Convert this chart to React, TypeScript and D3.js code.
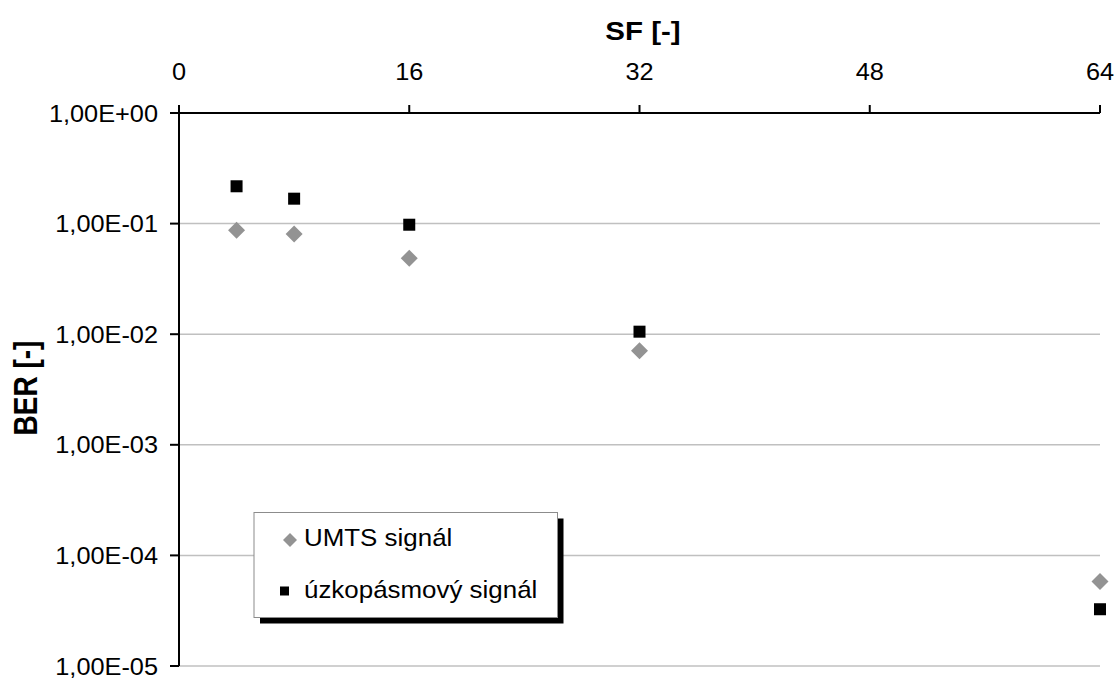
import React from "react";
import * as d3 from "d3";

const sfValues = [4, 8, 16, 32, 64];
const umtsBer = [0.087, 0.0805, 0.0486, 0.0071, 5.8e-5];
const narrowBer = [0.2175, 0.168, 0.0977, 0.01054, 3.26e-5];
const xTicks = [0, 16, 32, 48, 64];
const yTicks = [1, 0.1, 0.01, 0.001, 0.0001, 0.00001];
const yTickLabels = ["1,00E+00", "1,00E-01", "1,00E-02", "1,00E-03", "1,00E-04", "1,00E-05"];
const seriesNames = ["UMTS signál", "úzkopásmový signál"];
const xTitle = "SF [-]";
const yTitle = "BER [-]";

const W = 1119;
const H = 678;
const left = 179;
const right = 1100;
const top = 113;
const bottom = 666;

const FONT = "'Liberation Sans', Arial, Helvetica, sans-serif";
const SX = 1.055;
const FS = 24;

export default function App() {
  const x = d3.scaleLinear().domain([0, 64]).range([left, right]);
  const y = d3.scaleLog().domain([1e-5, 1]).range([bottom, top]);
  const diamond = (cx: number, cy: number, r: number) =>
    `M${cx},${cy - r}L${cx + r},${cy}L${cx},${cy + r}L${cx - r},${cy}Z`;

  const lgX = 254, lgY = 512.5, lgW = 303.5, lgH = 105;

  return (
    <svg width={W} height={H} style={{ position: "absolute", left: 0, top: 0, background: "#fff" }}>
      <rect x={0} y={0} width={W} height={H} fill="#fff" />
      {/* gridlines */}
      {yTicks.slice(1).map((t) => (
        <line key={"g" + t} x1={left} x2={right} y1={y(t)} y2={y(t)} stroke="#c0c0c0" strokeWidth={1.5} />
      ))}
      {/* axes */}
      <line x1={left} x2={right} y1={top} y2={top} stroke="#000" strokeWidth={2} />
      <line x1={left} x2={left} y1={top} y2={bottom} stroke="#000" strokeWidth={2} />
      {xTicks.map((t) => (
        <g key={"xt" + t}>
          <line x1={x(t)} x2={x(t)} y1={top} y2={top - 8} stroke="#000" strokeWidth={2} />
          <text
            transform={`translate(${x(t)},80) scale(${SX},1)`}
            textAnchor="middle"
            fontFamily={FONT}
            fontSize={FS}
            fill="#000"
          >
            {t}
          </text>
        </g>
      ))}
      {yTicks.map((t, i) => (
        <g key={"yt" + t}>
          <line x1={left - 9} x2={left} y1={y(t)} y2={y(t)} stroke="#000" strokeWidth={2} />
          <text
            transform={`translate(158,${y(t) + 8.5}) scale(${SX},1)`}
            textAnchor="end"
            fontFamily={FONT}
            fontSize={FS}
            fill="#000"
          >
            {yTickLabels[i]}
          </text>
        </g>
      ))}
      {/* titles */}
      <text
        transform={`translate(643,40) scale(1.18,1)`}
        textAnchor="middle"
        fontFamily={FONT}
        fontSize={25}
        fontWeight="bold"
      >
        {xTitle}
      </text>
      <text
        transform={`translate(37,388) scale(1.2,1) rotate(-90)`}
        textAnchor="middle"
        fontFamily={FONT}
        fontSize={28}
        fontWeight="bold"
      >
        {yTitle}
      </text>
      {/* data */}
      {sfValues.map((v, i) => (
        <path key={"d" + i} d={diamond(x(v), y(umtsBer[i]), 8.5)} fill="#939393" />
      ))}
      {sfValues.map((v, i) => (
        <rect key={"s" + i} x={x(v) - 6} y={y(narrowBer[i]) - 6} width={12} height={12} fill="#000" />
      ))}
      {/* legend */}
      <rect x={lgX + 6} y={lgY + 6} width={lgW} height={lgH} fill="#000" />
      <rect x={lgX} y={lgY} width={lgW} height={lgH} fill="#fff" stroke="#8c8c8c" strokeWidth={1} />
      <path d={diamond(290, 540, 7)} fill="#939393" />
      <text transform={`translate(304,546) scale(1.08,1)`} fontFamily={FONT} fontSize={FS}>
        {seriesNames[0]}
      </text>
      <rect x={284.5 - 4.5} y={591 - 4.5} width={9} height={9} fill="#000" />
      <text transform={`translate(304,598) scale(1.08,1)`} fontFamily={FONT} fontSize={FS}>
        {seriesNames[1]}
      </text>
    </svg>
  );
}
